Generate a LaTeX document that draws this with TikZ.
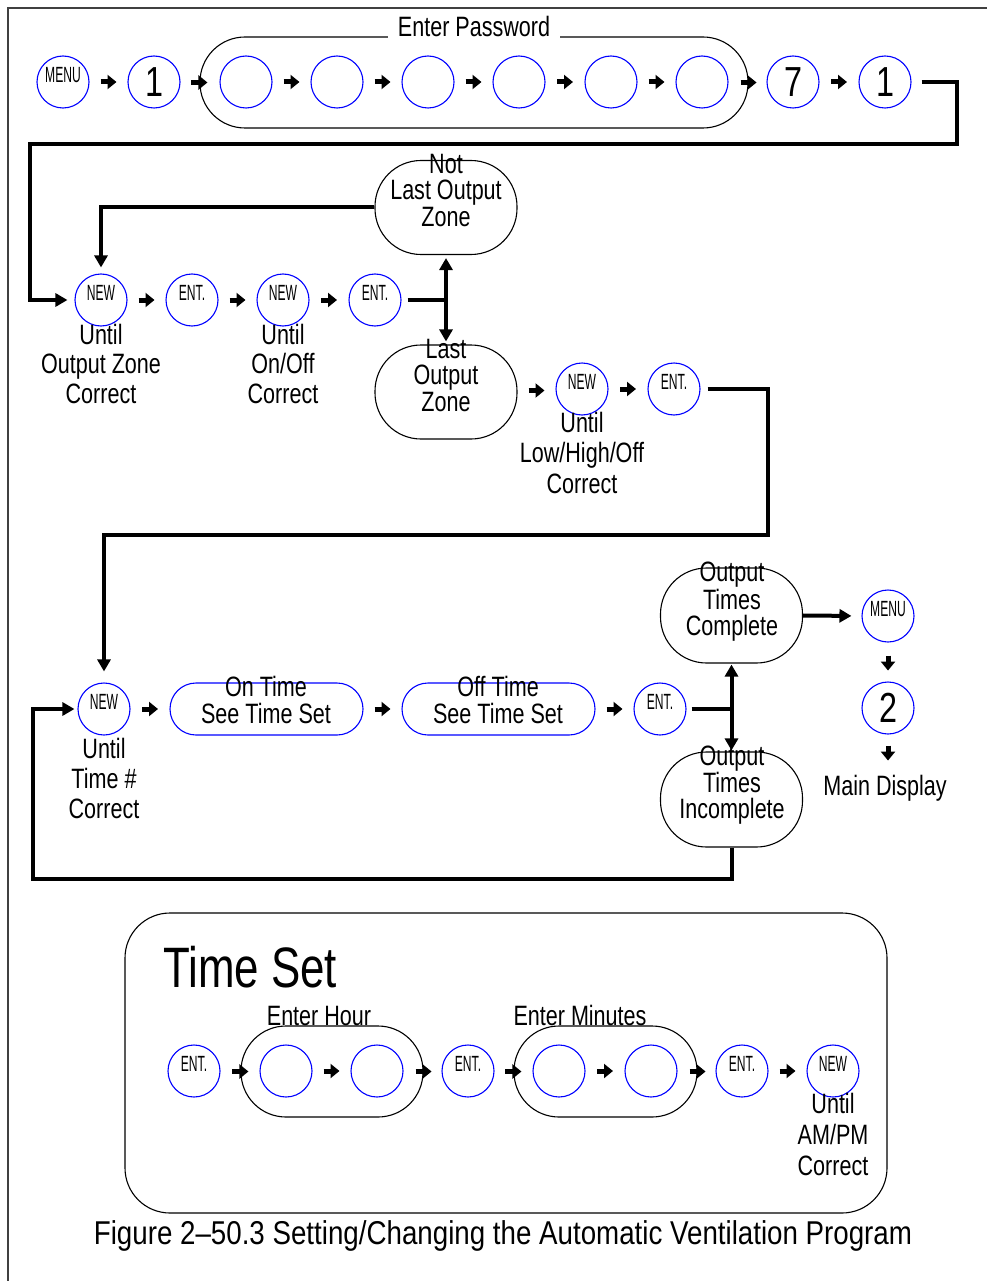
\documentclass[tikz,border=0pt]{standalone}
\usepackage{fontspec}
\setmainfont[FakeStretch=0.77]{Liberation Sans}
\newfontfamily\btnfont[FakeStretch=0.55]{Liberation Sans}
\newfontfamily\capfont[FakeStretch=0.84]{Liberation Sans}
\usetikzlibrary{arrows.meta,calc}
\newcommand{\harr}[2]{\draw[sarr] ($(#1.east)!0.5!(#2.west)$) ++(-8,0) -- ++(16,0);}
\newcommand{\earr}[1]{\draw[sarr] (#1) ++(-8,0) -- ++(16,0);}
\tikzset{
 btn/.style={circle, draw=blue, line width=1.1pt, minimum size=52pt, inner sep=0pt, font=\btnfont\fontsize{22}{22}\selectfont},
 dig/.style={btn, font=\fontsize{42}{42}\selectfont},
 grp/.style={draw=black, line width=1.1pt, rectangle, rounded corners=45pt, inner sep=0pt},
 zone/.style={draw=black, line width=1.1pt, rectangle, rounded corners=46pt, minimum width=142pt, minimum height=94pt, inner sep=0pt},
 tbox/.style={draw=blue, line width=1.1pt, rectangle, rounded corners=26pt, minimum width=193pt, minimum height=52pt, inner sep=0pt},
 txt/.style={font=\fontsize{28}{30}\selectfont, align=center, anchor=base, inner sep=0pt},
 conn/.style={line width=4pt, -{Triangle[length=12pt,width=13pt]}},
 thick line/.style={line width=4pt},
 dbl/.style={line width=4pt, {Triangle[length=12pt,width=13pt]}-{Triangle[length=12pt,width=13pt]}},
 sarr/.style={line width=5pt, -{Triangle[length=9pt,width=14pt]}},
}
\begin{document}
\begin{tikzpicture}[x=1pt,y=-1pt]
\useasboundingbox (0,0) rectangle (987,1281);
\fill[white] (0,0) rectangle (987,1281);
% frame
\draw[black!75, line width=1.5pt] (8,1281) -- (8,8) -- (987,8);

% ---- top row ----
\node[btn] (m1) at (63,82) {\raisebox{14pt}{MENU}};
\node[dig] (d1) at (154,82) {1};
\node[grp, minimum width=548pt, minimum height=91pt] (pw) at (474,82.5) {};
\node[txt, fill=white, inner xsep=10pt, inner ysep=3pt] (tpw) at (474,37) {Enter Password};
\node[btn] (c1) at (246,82) {};
\node[btn] (c2) at (337,82) {};
\node[btn] (c3) at (428,82) {};
\node[btn] (c4) at (519,82) {};
\node[btn] (c5) at (611,82) {};
\node[btn] (c6) at (702,82) {};
\node[dig] (d7) at (793,82) {7};
\node[dig] (d8) at (885,82) {1};
\harr{m1}{d1}
\earr{pw.west}
\harr{c1}{c2}
\harr{c2}{c3}
\harr{c3}{c4}
\harr{c4}{c5}
\harr{c5}{c6}
\earr{pw.east}
\harr{d7}{d8}

% ---- second row ----
\node[btn] (new1) at (101,300) {\raisebox{14pt}{NEW}};
\node[btn] (ent1) at (192,300) {\raisebox{14pt}{ENT.}};
\node[btn] (new2) at (283,300) {\raisebox{14pt}{NEW}};
\node[btn] (ent2) at (375,300) {\raisebox{14pt}{ENT.}};
\harr{new1}{ent1}
\harr{ent1}{new2}
\harr{new2}{ent2}
\node[txt, font=\fontsize{28}{29.5}\selectfont] (u1) at (101,403) {Until\\Output Zone\\Correct};
\node[txt, font=\fontsize{28}{29.5}\selectfont] (u2) at (283,403) {Until\\On/Off\\Correct};

\node[zone] (nl) at (446,207.5) {};
\node[txt, font=\fontsize{28}{26}\selectfont] (tnl) at (446,226) {Not\\Last Output\\Zone};
\node[zone] (lz) at (446,392) {};
\node[txt, font=\fontsize{28}{26.5}\selectfont] (tlz) at (446,411) {Last\\Output\\Zone};

\node[btn] (new4) at (582,389) {\raisebox{14pt}{NEW}};
\node[btn] (ent3) at (674,389) {\raisebox{14pt}{ENT.}};
\harr{lz}{new4}
\harr{new4}{ent3}
\node[txt, font=\fontsize{28}{30.5}\selectfont] (u4) at (582,493) {Until\\Low/High/Off\\Correct};

% connectors of rows 1-2
\draw[conn, shorten <=10pt, shorten >=7pt] (d8.east) -- (957,82) -- (957,144) -- (30,144) |- (new1.west);
\draw[conn, shorten >=6pt] (nl.west) -| (new1.north);
\draw[thick line, shorten <=6pt] (ent2.east) -- (ent2.east -| nl.south);
\draw[dbl, shorten <=3pt, shorten >=3pt] (nl.south) -- (lz.north);

% ---- third row ----
\node[btn] (new5) at (104,709) {\raisebox{14pt}{NEW}};
\node[tbox] (on) at (266.5,709) {};
\node[txt, font=\fontsize{28}{27}\selectfont] (ton) at (266,723) {On Time\\See Time Set};
\node[tbox] (off) at (498.5,709) {};
\node[txt, font=\fontsize{28}{27}\selectfont] (toff) at (498,723) {Off Time\\See Time Set};
\node[btn] (ent4) at (660,709) {\raisebox{14pt}{ENT.}};
\harr{new5}{on}
\harr{on}{off}
\harr{off}{ent4}
\node[txt] (u5) at (104,818) {Until\\Time \#\\Correct};

\node[zone, minimum height=95pt] (oc) at (731.5,615.5) {};
\node[txt, font=\fontsize{28}{26}\selectfont] (toc) at (732,635) {Output\\Times\\Complete};
\node[zone, minimum height=95pt] (oi) at (731.5,799.5) {};
\node[txt, font=\fontsize{28}{25.5}\selectfont] (toi) at (732,818) {Output\\Times\\Incomplete};

\node[btn] (menu2) at (888,616) {\raisebox{14pt}{MENU}};
\node[dig] (two) at (888,708) {2};
\node[txt] (md) at (885,795) {Main Display};
\draw[sarr] (menu2.south) ++(0,13) -- ++(0,15);
\draw[sarr] (two.south) ++(0,11) -- ++(0,15);

\draw[conn, shorten <=7pt, shorten >=11pt] (ent3.east) -- (768,389) -- (768,535) -| (new5.north);
\draw[thick line, shorten <=5pt] (ent4.east) -- (ent4.east -| oc.south);
\draw[dbl, shorten <=1pt, shorten >=1pt] (oc.south) -- (oi.north);
\draw[conn, shorten >=10pt] (oc.east) -- (menu2.west);
\draw[conn, shorten >=3pt] (oi.south) -- (oi.south |- 0,879) -- (33,879) |- (new5.west);

% ---- Time Set ----
\node[grp, minimum width=762pt, minimum height=300pt] (tsbox) at (506,1063) {};
\node[font=\fontsize{57}{57}\selectfont, anchor=base west, inner sep=0pt] (ts) at (163,987) {Time Set};
\node[btn] (ent5) at (194,1071) {\raisebox{14pt}{ENT.}};
\node[grp, minimum width=182pt, minimum height=91pt] (gh) at (332,1071.5) {};
\node[txt] (teh) at (319,1025) {Enter Hour};
\node[btn] (h1) at (286,1071) {};
\node[btn] (h2) at (377,1071) {};
\node[btn] (ent6) at (468,1071) {\raisebox{14pt}{ENT.}};
\node[grp, minimum width=183pt, minimum height=91pt] (gm) at (605.5,1071.5) {};
\node[txt] (tem) at (580,1025) {Enter Minutes};
\node[btn] (mn1) at (559,1071) {};
\node[btn] (mn2) at (651,1071) {};
\node[btn] (ent7) at (742,1071) {\raisebox{14pt}{ENT.}};
\node[btn] (new6) at (833,1071) {\raisebox{14pt}{NEW}};
\node[txt, font=\fontsize{28}{31}\selectfont] (u6) at (833,1175) {Until\\AM/PM\\Correct};
\earr{gh.west}
\harr{h1}{h2}
\earr{gh.east}
\earr{gm.west}
\harr{mn1}{mn2}
\earr{gm.east}
\harr{ent7}{new6}

% caption
\node[font=\capfont\fontsize{33}{33}\selectfont, anchor=base, inner sep=0pt] (cap) at (503,1244) {Figure 2–50.3 Setting/Changing the Automatic Ventilation Program};
\end{tikzpicture}
\end{document}
